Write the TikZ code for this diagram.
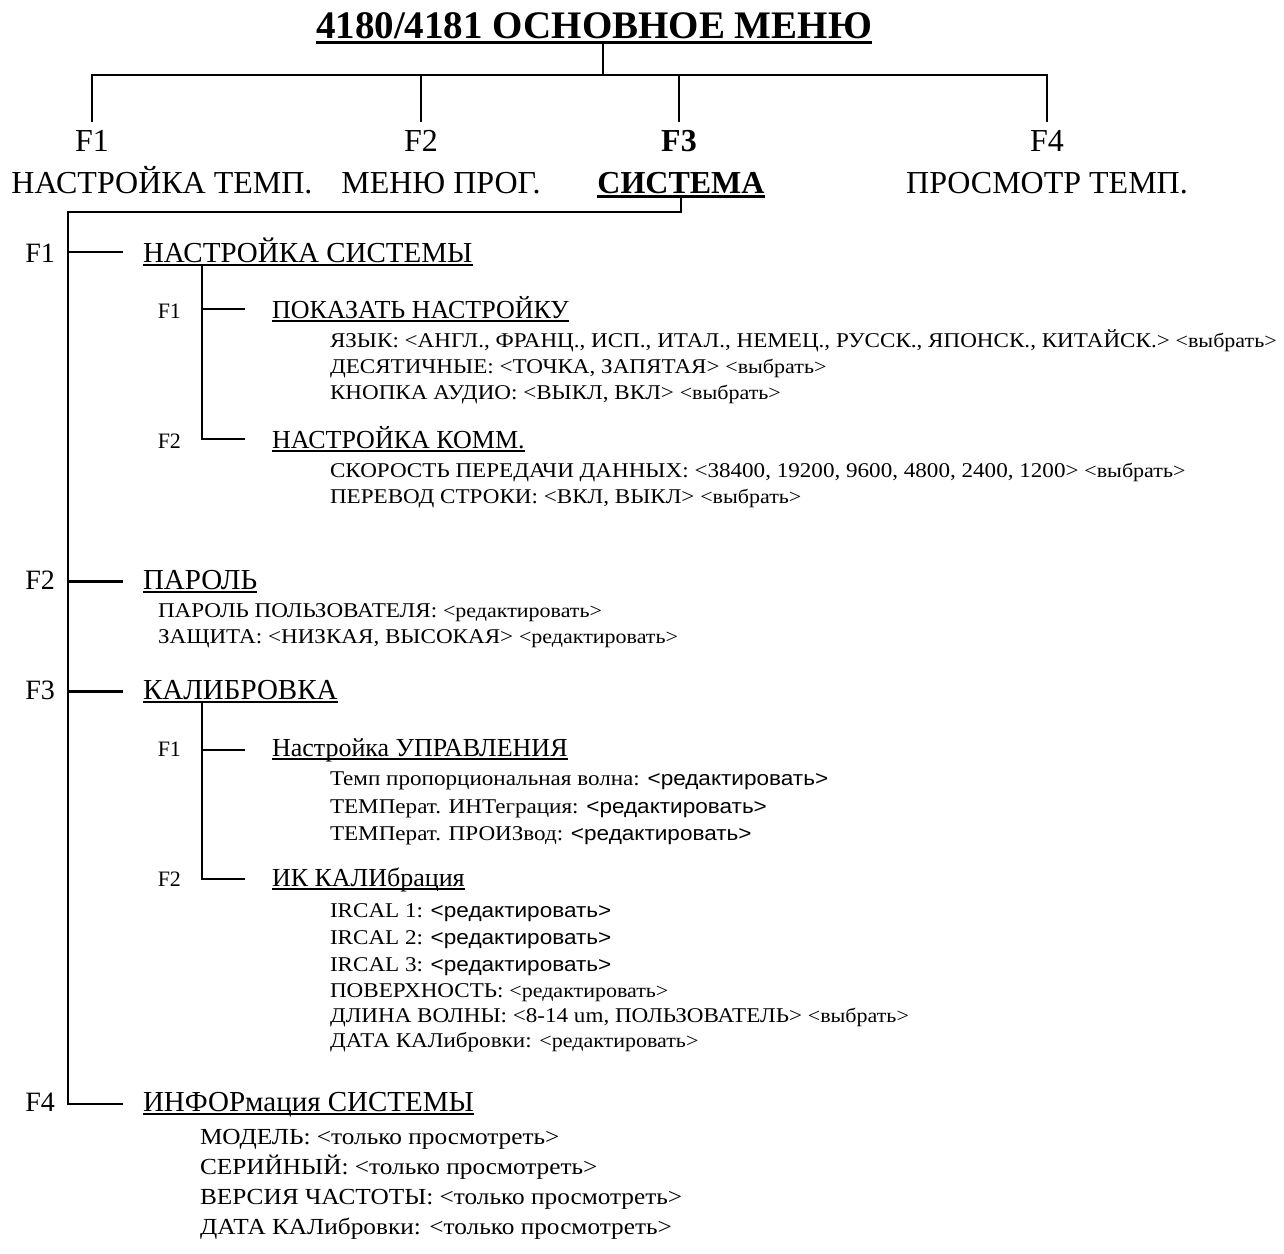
\documentclass[tikz,border=0pt]{standalone}
\usepackage{fontspec}
\setmainfont{Liberation Serif}
\newfontfamily\wser[FakeStretch=1.1]{Liberation Serif}
\newfontfamily\wsan[FakeStretch=1.1]{Liberation Sans}

\newcommand\fs[1]{\fontsize{#1}{#1}\selectfont}
\newcommand\ul[1]{\setbox0\hbox{#1}\leavevmode\rlap{\rule[-0.15em]{\wd0}{0.075em}}\box0}
\newcommand\sm[1]{{\fs{20}#1}}
\newcommand\sa[1]{{\wsan\fs{20.5}#1}}

\tikzset{
  every node/.style={inner sep=0pt, outer sep=0pt},
  ttl/.style={anchor=base, font=\fs{39}\bfseries},
  fkey/.style={anchor=base, inner ysep=8pt, font=\fs{32}},
  mlab/.style={anchor=base, font=\fs{32}},
  lkey/.style={anchor=base east, font=\fs{28}},
  lhead/.style={anchor=base west, font=\fs{29}},
  skey/.style={anchor=base east, font=\fs{22}},
  shead/.style={anchor=base west, font=\fs{26}},
  itm/.style={anchor=base west, font=\wser\fs{21}},
  itmc/.style={anchor=base west, font=\wser\fs{23}},
}

\begin{document}
\begin{tikzpicture}[x=1pt, y=-1pt, line width=2.5pt]
  \useasboundingbox (0,0) rectangle (1284,1253);
  % top menu
  \node[ttl] (ttl) at (594,38) {\ul{4180/4181 ОСНОВНОЕ МЕНЮ}};
  \coordinate (hub) at (603,75);
  \node[fkey] (k1) at (92,151) {F1};
  \node[fkey] (k2) at (421,151) {F2};
  \node[fkey, font=\fs{32}\bfseries] (k3) at (679,151) {F3};
  \node[fkey] (k4) at (1047,151) {F4};
  \node[mlab] (m1) at (162,193) {НАСТРОЙКА ТЕМП.};
  \node[mlab] (m2) at (441,193) {МЕНЮ ПРОГ.};
  \node[mlab, font=\fs{32}\bfseries] (m3) at (681,193) {\ul{СИСТЕМА}};
  \node[mlab] (m4) at (1047,193) {ПРОСМОТР ТЕМП.};
  \draw (ttl.south -| hub) -- (hub);
  \draw (k1.north) |- (hub) -| (k4.north);
  \draw (k2.north) -- (k2.north |- hub);
  \draw (k3.north) -- (k3.north |- hub);

  % system menu
  \coordinate (sp) at (68,212);
  \coordinate (sa) at (202,0);
  \node[lkey] (la) at (55,262) {F1};
  \node[lhead] (ha) at (143,262) {\ul{НАСТРОЙКА СИСТЕМЫ}};
  \node[lkey] (lb) at (55,589) {F2};
  \node[lhead] (hb) at (143,589) {\ul{ПАРОЛЬ}};
  \node[lkey] (lc) at (55,699) {F3};
  \node[lhead] (hc) at (143,699) {\ul{КАЛИБРОВКА}};
  \node[lkey] (ld) at (55,1111) {F4};
  \node[lhead] (hd) at (143,1111) {\ul{ИНФОРмация СИСТЕМЫ}};
  \draw[shorten >=20pt] (m3.south) |- (sp) |- (hd.west);
  \draw[shorten >=20pt] (sp |- ha.west) -- (ha.west);
  \draw[shorten >=20pt] (sp |- hb.west) -- (hb.west);
  \draw[shorten >=20pt] (sp |- hc.west) -- (hc.west);

  % system setup
  \node[skey] (ka1) at (181,318) {F1};
  \node[shead] (sa1) at (272,318) {\ul{ПОКАЗАТЬ НАСТРОЙКУ}};
  \node[itm] (a11) at (330,347) {ЯЗЫК: <АНГЛ., ФРАНЦ., ИСП., ИТАЛ., НЕМЕЦ., РУССК., ЯПОНСК., КИТАЙСК.> \sm{<выбрать>}};
  \node[itm] (a12) at (330,373) {ДЕСЯТИЧНЫЕ: <ТОЧКА, ЗАПЯТАЯ> \sm{<выбрать>}};
  \node[itm] (a13) at (330,399) {КНОПКА АУДИО: <ВЫКЛ, ВКЛ> \sm{<выбрать>}};
  \node[skey] (ka2) at (181,448) {F2};
  \node[shead] (sa2) at (272,448) {\ul{НАСТРОЙКА КОММ.}};
  \node[itm] (a21) at (330,477) {СКОРОСТЬ ПЕРЕДАЧИ ДАННЫХ: <38400, 19200, 9600, 4800, 2400, 1200> \sm{<выбрать>}};
  \node[itm] (a22) at (330,503) {ПЕРЕВОД СТРОКИ: <ВКЛ, ВЫКЛ> \sm{<выбрать>}};
  \draw[line width=2pt, shorten >=27pt] (sa |- ha.south) |- (sa2.west);
  \draw[line width=2pt, shorten >=27pt] (sa |- sa1.west) -- (sa1.west);

  % password
  \node[itm] (b1) at (158,617) {ПАРОЛЬ ПОЛЬЗОВАТЕЛЯ: \sm{<редактировать>}};
  \node[itm] (b2) at (158,643) {ЗАЩИТА: <НИЗКАЯ, ВЫСОКАЯ> \sm{<редактировать>}};

  % calibration
  \node[skey] (kc1) at (181,756) {F1};
  \node[shead] (sc1) at (272,756) {\ul{Настройка УПРАВЛЕНИЯ}};
  \node[itm] (c11) at (330,785) {Темп пропорциональная волна: \sa{<редактировать>}};
  \node[itm] (c12) at (330,813) {ТЕМПерат. ИНТеграция: \sa{<редактировать>}};
  \node[itm] (c13) at (330,840) {ТЕМПерат. ПРОИЗвод: \sa{<редактировать>}};
  \node[skey] (kc2) at (181,886) {F2};
  \node[shead] (sc2) at (272,886) {\ul{ИК КАЛИбрация}};
  \node[itm] (c21) at (330,917) {IRCAL 1: \sa{<редактировать>}};
  \node[itm] (c22) at (330,944) {IRCAL 2: \sa{<редактировать>}};
  \node[itm] (c23) at (330,971) {IRCAL 3: \sa{<редактировать>}};
  \node[itm] (c24) at (330,997) {ПОВЕРХНОСТЬ: \sm{<редактировать>}};
  \node[itm] (c25) at (330,1022) {ДЛИНА ВОЛНЫ: <8-14 um, ПОЛЬЗОВАТЕЛЬ> \sm{<выбрать>}};
  \node[itm] (c26) at (330,1047) {ДАТА КАЛибровки: \sm{<редактировать>}};
  \draw[line width=2pt, shorten >=27pt] (sa |- hc.south) |- (sc2.west);
  \draw[line width=2pt, shorten >=27pt] (sa |- sc1.west) -- (sc1.west);

  % system info
  \node[itmc] (d1) at (200,1144) {МОДЕЛЬ: <только просмотреть>};
  \node[itmc] (d2) at (200,1174) {СЕРИЙНЫЙ: <только просмотреть>};
  \node[itmc] (d3) at (200,1204) {ВЕРСИЯ ЧАСТОТЫ: <только просмотреть>};
  \node[itmc] (d4) at (200,1234) {ДАТА КАЛибровки: <только просмотреть>};
\end{tikzpicture}
\end{document}
